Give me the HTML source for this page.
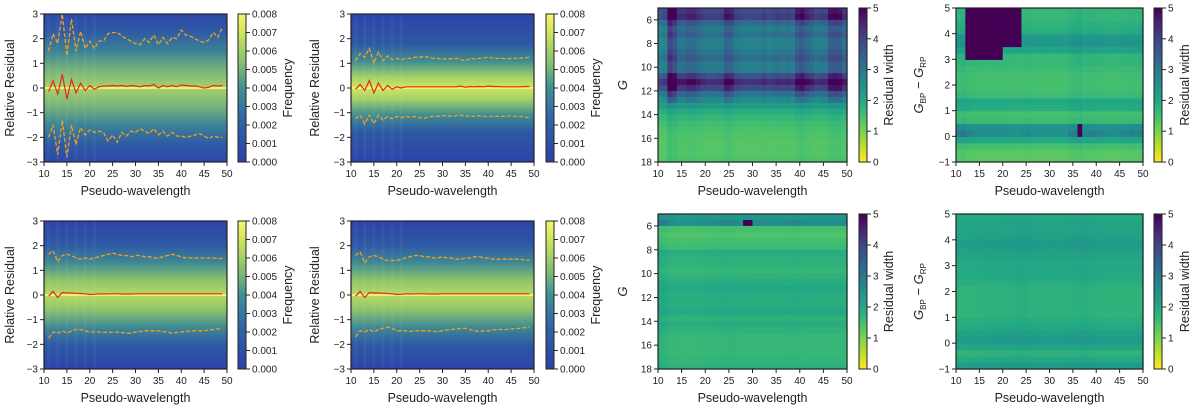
<!DOCTYPE html>
<html><head><meta charset="utf-8"><style>
body{margin:0;background:#fff}
svg{display:block;font-family:"Liberation Sans",sans-serif}
text{fill:#222}
</style></head><body>
<svg id="fig" width="1200" height="413" viewBox="0 0 1200 413">
<defs>
<linearGradient id="cbFreq" x1="0" y1="1" x2="0" y2="0">
<stop offset="0" stop-color="#2b40a8"/><stop offset="0.3" stop-color="#2f68a4"/><stop offset="0.5" stop-color="#3f9095"/><stop offset="0.65" stop-color="#7fba74"/><stop offset="0.82" stop-color="#bcdc5e"/><stop offset="1" stop-color="#f8f76a"/>
</linearGradient>
<linearGradient id="cbVir" x1="0" y1="1" x2="0" y2="0">
<stop offset="0" stop-color="#fde725"/><stop offset="0.1" stop-color="#bddf26"/><stop offset="0.2" stop-color="#7ad151"/><stop offset="0.3" stop-color="#44bf70"/><stop offset="0.4" stop-color="#22a884"/><stop offset="0.5" stop-color="#21918c"/><stop offset="0.6" stop-color="#2a788e"/><stop offset="0.7" stop-color="#355f8d"/><stop offset="0.8" stop-color="#414487"/><stop offset="0.9" stop-color="#482475"/><stop offset="1" stop-color="#440154"/>
</linearGradient>
<linearGradient id="bgA" x1="0" y1="0" x2="0" y2="1">
<stop offset="0" stop-color="#2d48a8"/><stop offset="0.12" stop-color="#2f5aa6"/><stop offset="0.25" stop-color="#3a8396"/><stop offset="0.38" stop-color="#78b47a"/><stop offset="0.5" stop-color="#a6d26a"/><stop offset="0.62" stop-color="#78b47a"/><stop offset="0.75" stop-color="#3a8396"/><stop offset="0.88" stop-color="#2f5aa6"/><stop offset="1" stop-color="#2d48a8"/>
</linearGradient>
<linearGradient id="bgB" x1="0" y1="0" x2="0" y2="1">
<stop offset="0" stop-color="#2c44a8"/><stop offset="0.2" stop-color="#2e58a6"/><stop offset="0.32" stop-color="#3f8e92"/><stop offset="0.42" stop-color="#a0cf68"/><stop offset="0.5" stop-color="#cfe660"/><stop offset="0.58" stop-color="#a0cf68"/><stop offset="0.68" stop-color="#3f8e92"/><stop offset="0.8" stop-color="#2e58a6"/><stop offset="1" stop-color="#2c44a8"/>
</linearGradient>
<linearGradient id="bgC" x1="0" y1="0" x2="0" y2="1">
<stop offset="0" stop-color="#2c44a8"/><stop offset="0.16" stop-color="#2e58a6"/><stop offset="0.28" stop-color="#3d8894"/><stop offset="0.4" stop-color="#8cc46c"/><stop offset="0.5" stop-color="#b8da64"/><stop offset="0.6" stop-color="#8cc46c"/><stop offset="0.72" stop-color="#3d8894"/><stop offset="0.84" stop-color="#2e58a6"/><stop offset="1" stop-color="#2c44a8"/>
</linearGradient>
</defs>
</svg>
<script>
// ---------- data ----------
const wl = [11,12,13,14,15,16,17,18,19,20,21,22,23,24,25,26,27,28,29,30,31,32,33,34,35,36,37,38,39,40,41,42,43,44,45,46,47,48,49];
const upA = [1.5,2.2,1.8,3.0,1.3,2.8,1.5,2.3,1.6,1.9,1.6,1.9,1.9,2.2,2.25,2.25,2.1,2.0,1.9,1.8,1.75,2.0,1.85,2.15,1.75,2.05,1.8,2.05,2.0,2.35,2.15,2.1,2.0,1.9,1.85,1.95,2.25,2.05,2.45];
const loA = [-2.0,-1.5,-2.7,-1.3,-2.8,-1.5,-2.3,-1.6,-1.9,-1.7,-1.8,-1.75,-1.8,-2.15,-1.9,-2.2,-1.8,-1.95,-1.75,-1.8,-1.65,-1.75,-1.85,-1.65,-1.9,-1.75,-1.95,-1.8,-1.95,-1.95,-2.0,-1.95,-1.9,-1.85,-1.95,-2.05,-1.95,-2.0,-2.0];
const mnA = [-0.15,0.3,-0.25,0.55,-0.45,0.35,-0.2,0.2,-0.1,0.1,-0.05,0.05,0.08,0.08,0.1,0.08,0.1,0.06,0.1,0.08,0.05,0.1,0.08,0.15,0,0.1,0.05,0.1,0.05,0.12,0.1,0.08,0.08,0.05,0,0.03,0.1,0.08,0.1];
const upB = [1.1,1.4,1.25,1.6,1.0,1.45,1.1,1.3,1.15,1.2,1.15,1.2,1.2,1.25,1.25,1.28,1.25,1.2,1.2,1.15,1.2,1.18,1.2,1.15,1.1,1.2,1.18,1.2,1.22,1.25,1.22,1.2,1.2,1.18,1.2,1.2,1.22,1.22,1.25];
const loB = [-1.25,-1.1,-1.45,-1.1,-1.45,-1.1,-1.3,-1.15,-1.25,-1.15,-1.2,-1.15,-1.18,-1.15,-1.2,-1.22,-1.18,-1.15,-1.15,-1.12,-1.12,-1.15,-1.12,-1.1,-1.15,-1.12,-1.15,-1.12,-1.15,-1.15,-1.15,-1.15,-1.15,-1.15,-1.12,-1.15,-1.15,-1.18,-1.2];
const mnB = [-0.05,0.15,-0.1,0.3,-0.2,0.2,-0.1,0.1,-0.05,0.05,0,0.05,0.05,0.05,0.05,0.05,0.05,0.05,0.05,0.05,0.05,0.05,0.05,0.08,0.03,0.06,0.05,0.06,0.05,0.08,0.06,0.06,0.05,0.05,0.05,0.05,0.05,0.06,0.06];
const upC = [1.65,1.8,1.35,1.6,1.65,1.6,1.5,1.45,1.5,1.45,1.5,1.55,1.6,1.65,1.7,1.65,1.6,1.6,1.55,1.6,1.6,1.55,1.55,1.5,1.5,1.55,1.6,1.65,1.6,1.55,1.5,1.5,1.5,1.5,1.5,1.5,1.5,1.48,1.48];
const loC = [-1.75,-1.5,-1.55,-1.45,-1.55,-1.45,-1.4,-1.4,-1.45,-1.5,-1.5,-1.5,-1.52,-1.5,-1.52,-1.5,-1.52,-1.55,-1.55,-1.5,-1.48,-1.45,-1.45,-1.45,-1.45,-1.48,-1.5,-1.55,-1.52,-1.5,-1.48,-1.46,-1.45,-1.45,-1.45,-1.42,-1.4,-1.38,-1.35];
const mnC = [-0.05,0.15,-0.1,0.1,0.08,0.08,0.07,0.06,0.05,0.02,0.03,0.05,0.04,0.05,0.05,0.05,0.04,0.04,0.04,0.05,0.05,0.05,0.05,0.05,0.05,0.05,0.05,0.05,0.05,0.05,0.05,0.05,0.05,0.05,0.05,0.05,0.05,0.05,0.05];
const upD = [1.6,1.75,1.3,1.55,1.6,1.55,1.45,1.4,1.4,1.4,1.45,1.5,1.55,1.6,1.6,1.55,1.55,1.5,1.5,1.55,1.5,1.5,1.45,1.45,1.5,1.5,1.55,1.55,1.5,1.5,1.45,1.45,1.45,1.45,1.45,1.45,1.45,1.42,1.4];
const loD = [-1.7,-1.45,-1.5,-1.4,-1.5,-1.4,-1.35,-1.3,-1.35,-1.45,-1.45,-1.45,-1.48,-1.45,-1.45,-1.45,-1.45,-1.48,-1.48,-1.45,-1.42,-1.4,-1.38,-1.35,-1.35,-1.4,-1.45,-1.48,-1.45,-1.45,-1.42,-1.4,-1.4,-1.4,-1.38,-1.36,-1.35,-1.32,-1.3];
const mnD = [-0.05,0.15,-0.1,0.1,0.08,0.08,0.07,0.06,0.05,0.02,0.03,0.05,0.04,0.05,0.05,0.05,0.04,0.04,0.04,0.05,0.05,0.05,0.05,0.05,0.05,0.05,0.05,0.05,0.05,0.05,0.05,0.05,0.05,0.05,0.05,0.05,0.05,0.05,0.05];
const freqTicks = ["0.000","0.001","0.002","0.003","0.004","0.005","0.006","0.007","0.008"];
const resTicks = [-3,-2,-1,0,1,2,3];
const wlTicks = [10,15,20,25,30,35,40,45,50];
const widthTicks = [0,1,2,3,4,5];
const gTicks = [6,8,10,12,14,16,18];
const colorTicks = [-1,0,1,2,3,4,5];
const gBins = [5,5.5,6,6.5,7,7.5,8,8.5,9,9.5,10,10.5,11,11.5,12,12.5,13,13.5,14,14.5,15,15.5,16,16.5,17,17.5];
const rowE = [4.0,4.2,3.4,3.0,3.2,2.9,2.9,3.1,3.3,3.0,3.0,3.9,4.5,4.0,3.2,2.7,2.3,1.9,1.7,1.55,1.45,1.4,1.35,1.35,1.35,1.4];
const colE = [0.9,0.95,1.35,1.25,1.05,1.05,1.1,1.1,1.05,1.0,0.97,0.97,0.98,1.0,1.15,1.12,1.0,0.97,0.95,0.95,0.96,0.95,1.0,0.95,0.98,1.0,0.98,1.0,0.97,1.15,1.2,1.1,1.05,0.98,1.0,1.0,1.18,1.2,1.18,1.05];
const rowG = [2.4,2.6,1.5,1.4,1.5,1.6,1.9,1.8,1.8,1.7,1.8,1.9,2.0,1.9,1.9,1.9,2.0,1.8,1.9,1.8,1.7,1.7,1.7,1.7,1.75,1.8];
const colG = [1.15,1.1,1.0,0.98,0.95,0.95,0.95,0.96,0.97,0.98,1.0,1.0,1.02,1.04,1.05,1.05,1.02,1.0,1.0,1.0,1.0,1.0,1.0,1.0,1.0,1.0,1.0,1.02,1.04,1.03,1.02,1.0,1.0,1.0,1.0,1.0,1.0,1.0,1.0,1.0];
const cBins = [-1,-0.75,-0.5,-0.25,0,0.25,0.5,0.75,1,1.25,1.5,1.75,2,2.25,2.5,2.75,3,3.25,3.5,3.75,4,4.25,4.5,4.75];
const rowF = [1.3,1.3,1.5,2.0,2.6,2.5,1.6,1.5,1.9,2.0,1.6,1.5,1.5,1.5,1.6,1.7,1.7,2.1,2.4,2.3,1.9,1.8,1.7,1.7];
const colF = [1.1,1.2,1.1,1.05,1.0,1.0,1.0,1.0,1.0,1.0,1.0,0.98,0.96,0.95,1.0,1.02,0.95,0.95,0.95,0.95,0.95,0.95,0.95,0.95,1.1,1.15,1.2,1.05,1.1,1.1,1.05,1.05,1.0,1.0,1.0,1.05,1.05,1.1,1.05,1.1];
const darkF = [[12,24,3.75,5],[12,20,3.0,3.75],[20,24,3.5,3.75],[36,37,0,0.5]];
const rowH = [2.3,2.0,1.8,2.1,2.3,2.2,2.0,1.9,1.8,1.8,1.8,1.8,1.8,1.9,2.0,2.0,2.0,2.1,2.2,2.3,2.2,2.1,2.1,2.0];
const colH = [0.95,0.92,0.95,0.95,0.97,0.98,1.0,1.0,1.0,1.02,1.02,1.02,1.03,1.08,1.1,1.05,1.02,1.0,1.0,1.0,1.0,1.0,1.0,1.02,1.02,1.05,1.08,1.1,1.05,1.02,1.0,0.98,0.98,0.98,0.98,0.98,0.98,0.98,0.97,0.97];

// ---------- helpers ----------
const svg = document.getElementById('fig');
const NS = 'http://www.w3.org/2000/svg';
function mk(tag, attrs, parent){const e=document.createElementNS(NS,tag);for(const k in attrs)e.setAttribute(k,attrs[k]);(parent||svg).appendChild(e);return e;}
function txt(x,y,s,anchor,size,parent){const t=mk('text',{x:x,y:y,'text-anchor':anchor||'middle','font-size':size||10},parent);t.textContent=s;return t;}
const vir=[[68,1,84],[72,36,117],[65,68,135],[53,95,141],[42,120,142],[33,145,140],[34,168,132],[68,191,112],[122,209,81],[189,223,38],[253,231,37]];
function widthColor(w){let t=1-Math.max(0,Math.min(5,w))/5;const f=t*10,i=Math.min(9,Math.floor(f)),r=f-i;const a=vir[i],b=vir[i+1];return 'rgb('+a.map((v,k)=>Math.round(v+(b[k]-v)*r)).join(',')+')';}

function xAxis(g,P,vals){
  vals.forEach(v=>{const x=P.sx(v);mk('line',{x1:x,x2:x,y1:P.y1,y2:P.y1+4,stroke:'#222'},g);
  const t=txt(x,P.y1+15,String(v),'middle',10,g);
  
  });
  const l=txt((P.x0+P.x1)/2,P.y1+33,'Pseudo-wavelength','middle',12.5,g);
  
  
}
function yAxis(g,P,vals,fmt){
  vals.forEach(v=>{const y=P.sy(v);mk('line',{x1:P.x0-4,x2:P.x0,y1:y,y2:y,stroke:'#222'},g);
  const t=txt(P.x0-6,y+3.5,fmt(v),'end',10,g);
  
  });
}
function colorbar(g,P,fill,ticks,label,lx){
  const r=mk('rect',{x:P.cbx,y:P.y0,width:8,height:P.y1-P.y0,fill:fill,stroke:'#222','stroke-width':1},g);
  
  
  ticks.forEach((t,i)=>{const y=P.y1-(P.y1-P.y0)*i/(ticks.length-1);mk('line',{x1:P.cbx+8,x2:P.cbx+12,y1:y,y2:y,stroke:'#222'},g);
  const tt=txt(P.cbx+14,y+3.5,String(t),'start',10,g);
  
  });
  const cy=(P.y0+P.y1)/2;const l=txt(0,0,label,'middle',12.5,g);l.setAttribute('transform','translate('+lx+','+cy+') rotate(-90)');
  
  
}
function mkP(x0,x1,y0,y1,cbx,ymin,ymax,invert){
  const P={x0,x1,y0,y1,cbx};P.sx=v=>x0+(v-10)/40*(x1-x0);
  P.sy=invert?(v=>y0+(v-ymin)/(ymax-ymin)*(y1-y0)):(v=>y1-(v-ymin)/(ymax-ymin)*(y1-y0));return P;}
const fmtNeg=v=>v<0?'\u2212'+(-v):String(v);

function freqPanel(name,P,bg,up,lo,mn,ylx,cblx){
  const g=mk('g',{});
  
  
  const bgr=mk('rect',{x:P.x0,y:P.y0,width:P.x1-P.x0,height:P.y1-P.y0,fill:'url(#'+bg+')'},g);
  
  
  wl.forEach((w,i)=>{if(w<22&&i%2===0){const s=mk('rect',{x:P.sx(w)-1.5,y:P.y0,width:3,height:P.y1-P.y0,fill:'#ffffff','fill-opacity':0.04},g);
  
  }});
  const z=mk('line',{x1:P.x0,x2:P.x1,y1:P.sy(0),y2:P.sy(0),stroke:'#f3f06a','stroke-width':2},g);
  
  
  const pts=a=>a.map((v,i)=>P.sx(wl[i]).toFixed(1)+','+P.sy(v).toFixed(1)).join(' ');
  const u=mk('polyline',{points:pts(up),fill:'none',stroke:'#f5a01a','stroke-width':1.3,'stroke-dasharray':'4,2'},g);
  
  
  const lw=mk('polyline',{points:pts(lo),fill:'none',stroke:'#f5a01a','stroke-width':1.3,'stroke-dasharray':'4,2'},g);
  
  
  const m=mk('polyline',{points:pts(mn),fill:'none',stroke:'#e8281e','stroke-width':1.2},g);
  
  
  mk('rect',{x:P.x0,y:P.y0,width:P.x1-P.x0,height:P.y1-P.y0,fill:'none',stroke:'#222','stroke-width':1.2},g);
  xAxis(g,P,wlTicks);yAxis(g,P,resTicks,fmtNeg);
  const yl=txt(0,0,'Relative Residual','middle',12.5,g);yl.setAttribute('transform','translate('+ylx+','+(P.y0+P.y1)/2+') rotate(-90)');
  
  
  colorbar(g,P,'url(#cbFreq)',freqTicks,'Frequency',cblx);
}

function heatPanel(name,P,bins,binW,rows,cols,dark,ticks,ylabel,ylx,cblx,isColor){
  const g=mk('g',{});
  
  
  for(let r=0;r<bins.length;r++){for(let c=0;c<cols.length;c++){
    const w0=10+c;const k=rows[r]>2.5?1:0.35;let v=rows[r]*(1+(cols[c]-1)*k);
    if(dark)dark.forEach(d=>{if(w0>=d[0]&&w0<d[1]&&bins[r]>=d[2]&&bins[r]<d[3])v=5;});
    const ya=P.sy(bins[r]),yb=P.sy(bins[r]+binW);
    const cell=mk('rect',{x:P.sx(w0).toFixed(2),y:Math.min(ya,yb).toFixed(2),width:(P.sx(w0+1)-P.sx(w0)+0.6).toFixed(2),height:(Math.abs(yb-ya)+0.6).toFixed(2),fill:widthColor(v)},g);
    
    
  }}
  mk('rect',{x:P.x0,y:P.y0,width:P.x1-P.x0,height:P.y1-P.y0,fill:'none',stroke:'#222','stroke-width':1.2},g);
  xAxis(g,P,wlTicks);yAxis(g,P,ticks,fmtNeg);
  const yl=txt(0,0,'','middle',13,g);yl.setAttribute('transform','translate('+ylx+','+(P.y0+P.y1)/2+') rotate(-90)');
  yl.setAttribute('font-style','italic');
  
  
  if(isColor){yl.innerHTML='G<tspan font-size="8" dy="3" font-style="normal">BP</tspan><tspan dy="-3" font-style="normal"> \u2212 </tspan>G<tspan font-size="8" dy="3" font-style="normal">RP</tspan>';}
  else yl.textContent=ylabel;
  colorbar(g,P,'url(#cbVir)',widthTicks,'Residual width',cblx);
}

// ---------- panels ----------
freqPanel('panel-top-1',mkP(44,227,14,162,238,-3,3),'bgA',upA,loA,mnA,14,292);
freqPanel('panel-top-2',mkP(351,534,14,162,546,-3,3),'bgB',upB,loB,mnB,319,600);
freqPanel('panel-bottom-1',mkP(44,227,221,369,238,-3,3),'bgC',upC,loC,mnC,14,292);
freqPanel('panel-bottom-2',mkP(351,534,221,369,546,-3,3),'bgC',upD,loD,mnD,319,600);
heatPanel('panel-top-3',mkP(658,847,8,162,859,5,18,true),gBins,0.5,rowE,colE,null,gTicks,'G',627,893,false);
heatPanel('panel-top-4',mkP(956,1143,8,162,1154,-1,5,false),cBins,0.25,rowF,colF,darkF,colorTicks,'',923,1189,true);
heatPanel('panel-bottom-3',mkP(658,847,214,369,859,5,18,true),gBins,0.5,rowG,colG,[[28,30,5.5,6]],gTicks,'G',627,893,false);
heatPanel('panel-bottom-4',mkP(956,1143,214,369,1154,-1,5,false),cBins,0.25,rowH,colH,null,colorTicks,'',923,1189,true);
</script>
</body></html>
